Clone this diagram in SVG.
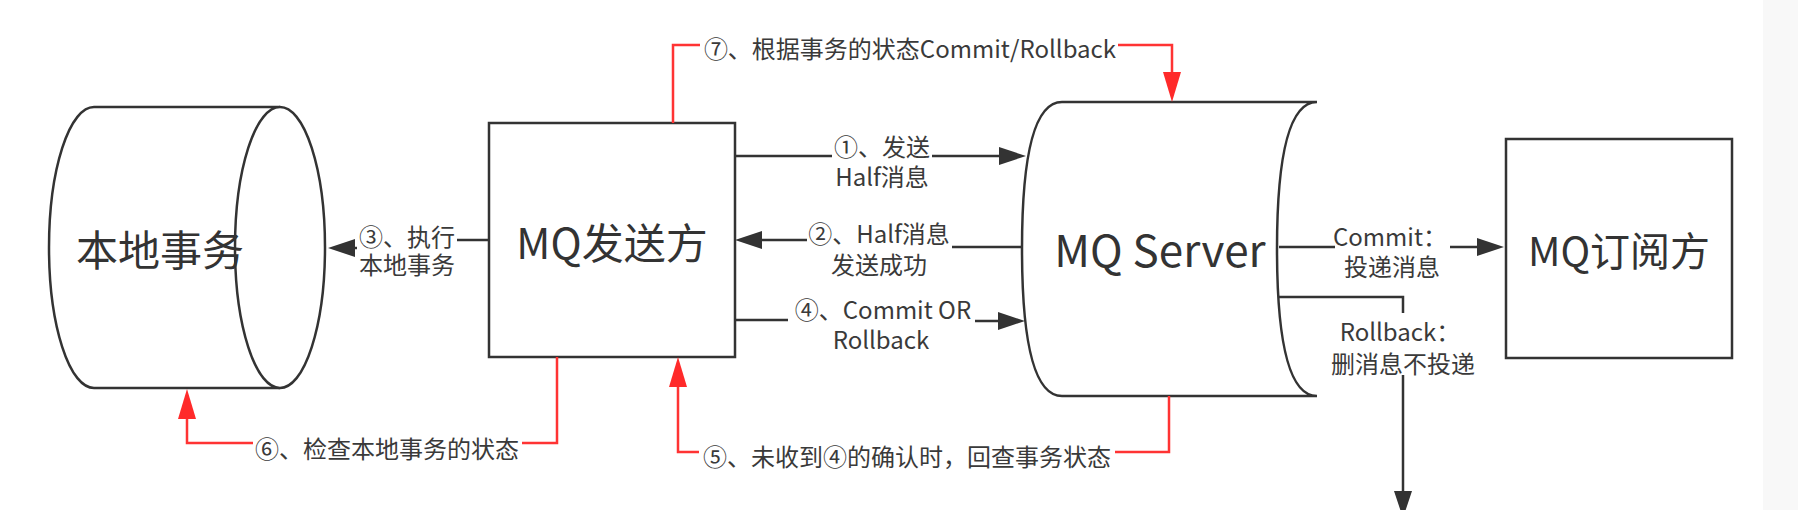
<svg xmlns="http://www.w3.org/2000/svg" width="1798" height="510" viewBox="0 0 1798 510">
  <style>
    text { font-family: "Noto Sans CJK SC", "Noto Sans", "Liberation Sans", sans-serif; fill: #333; text-anchor: middle; dominant-baseline: central; }
    .node { fill: #fff; stroke: #333; stroke-width: 2.5; }
    .big { font-size: 42px; }
    .lbl { font-size: 24px; fill: #3a3a3a; }
    .blk { fill: none; stroke: #333; stroke-width: 2.5; }
    .red { fill: none; stroke: #ff3333; stroke-width: 2.5; }
  </style>
  <defs>
    <marker id="arrB" markerUnits="userSpaceOnUse" markerWidth="27" markerHeight="18" refX="17" refY="9" orient="auto" viewBox="0 0 27 18">
      <path d="M0,0 L27,9 L0,18 Z" fill="#333"/>
    </marker>
    <marker id="arrR" markerUnits="userSpaceOnUse" markerWidth="30" markerHeight="18" refX="20" refY="9" orient="auto" viewBox="0 0 30 18">
      <path d="M0,0 L30,9 L0,18 Z" fill="#ff2a2a"/>
    </marker>
  </defs>
  <rect x="0" y="0" width="1798" height="510" fill="#fff"/>
  <rect x="1763" y="0" width="35" height="510" fill="#f8f8f8"/>

  <g id="local-tx">
    <path class="node" d="M280,107 H94 A45,140.5 0 0 0 94,388 H280"/>
    <ellipse class="node" cx="280" cy="247.5" rx="45" ry="140.5"/>
    <text class="big" x="160" y="247">本地事务</text>
  </g>

  <g id="sender">
    <rect class="node" x="489" y="123" width="246" height="234"/>
    <text class="big" x="612" y="240">MQ发送方</text>
  </g>

  <g id="server">
    <path class="node" d="M1062,102 H1317 Q1277,102 1277,249 Q1277,396 1317,396 H1062 Q1022,396 1022,249 Q1022,102 1062,102 Z"/>
    <text x="1160" y="248" style="font-size:44px">MQ Server</text>
  </g>

  <g id="subscriber">
    <rect class="node" x="1506" y="139" width="226" height="219"/>
    <text x="1619" y="249" style="font-size:40px">MQ订阅方</text>
  </g>

  <g id="connectors">
    <!-- 1 send half -->
    <path class="blk" d="M735,156 H832"/>
    <path class="blk" d="M932,156 H1016" marker-end="url(#arrB)"/>
    <text class="lbl"><tspan x="882" y="145">①、发送</tspan><tspan x="882" y="175">Half消息</tspan></text>
    <!-- 2 half ack -->
    <path class="blk" d="M1022,247 H952"/>
    <path class="blk" d="M807,240 H745" marker-end="url(#arrB)"/>
    <text class="lbl"><tspan x="879" y="232">②、Half消息</tspan><tspan x="879" y="263">发送成功</tspan></text>
    <!-- 3 execute local tx -->
    <path class="blk" d="M489,240 H457"/>
    <path class="blk" d="M357,248 H338" marker-end="url(#arrB)"/>
    <text class="lbl"><tspan x="407" y="235">③、执行</tspan><tspan x="407" y="263">本地事务</tspan></text>
    <!-- 4 commit or rollback -->
    <path class="blk" d="M735,320 H788"/>
    <path class="blk" d="M975,321 H1015" marker-end="url(#arrB)"/>
    <text class="lbl"><tspan x="883" y="308">④、Commit OR</tspan><tspan x="881" y="338">Rollback</tspan></text>
    <!-- commit deliver -->
    <path class="blk" d="M1279,247 H1335"/>
    <path class="blk" d="M1450,247 H1494" marker-end="url(#arrB)"/>
    <text class="lbl"><tspan x="1390" y="235">Commit：</tspan><tspan x="1392" y="265">投递消息</tspan></text>
    <!-- rollback delete -->
    <path class="blk" d="M1279,297 H1403 V313"/>
    <path class="blk" d="M1403,375 V508" marker-end="url(#arrB)"/>
    <text class="lbl"><tspan x="1400" y="330">Rollback：</tspan><tspan x="1403" y="362">删消息不投递</tspan></text>
    <!-- 7 commit/rollback by state -->
    <path class="red" d="M673,123 V45 H700"/>
    <path class="red" d="M1118,45 H1172 V92" marker-end="url(#arrR)"/>
    <text class="lbl" x="910" y="47">⑦、根据事务的状态Commit/Rollback</text>
    <!-- 6 check local state -->
    <path class="red" d="M557,357 V443 H522"/>
    <path class="red" d="M253,443 H187 V399" marker-end="url(#arrR)"/>
    <text class="lbl" x="387" y="447">⑥、检查本地事务的状态</text>
    <!-- 5 check back -->
    <path class="red" d="M1169,396 V452 H1115"/>
    <path class="red" d="M699,452 H678 V367" marker-end="url(#arrR)"/>
    <text class="lbl" x="907" y="455">⑤、未收到④的确认时，回查事务状态</text>
  </g>
</svg>
